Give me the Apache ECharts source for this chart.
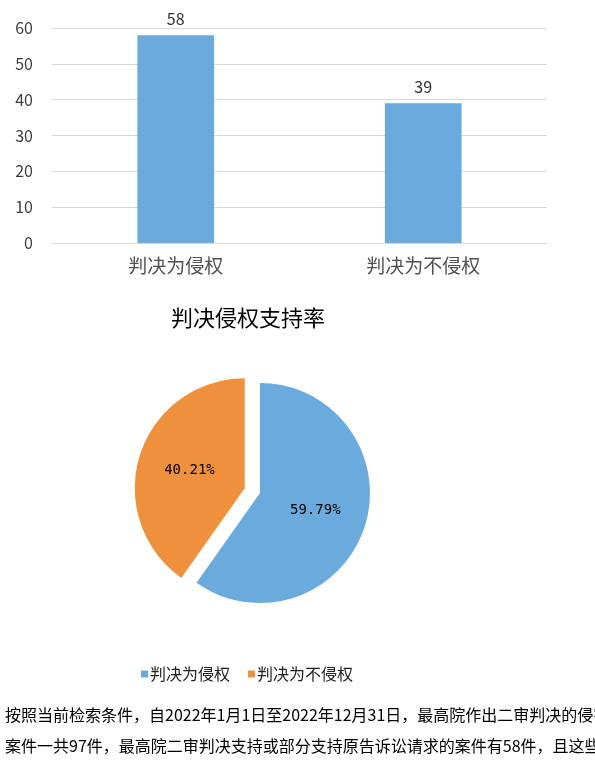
<!DOCTYPE html>
<html><head><meta charset="utf-8">
<script src="https://cdn.jsdelivr.net/npm/echarts@6/dist/echarts.min.js"></script>
<style>html,body{margin:0;padding:0;background:#fff;}#c{width:595px;height:770px;}</style>
</head><body><div id="c"></div>
<script>
const barCategories = ['判决为侵权', '判决为不侵权'];
const barValues = [58, 39];
const yTicks = [0, 10, 20, 30, 40, 50, 60];
const pieTitle = '判决侵权支持率';
const pieNames = ['判决为侵权', '判决为不侵权'];
const pieValues = [58, 39];
const textLines = [
  '按照当前检索条件，自2022年1月1日至2022年12月31日，最高院作出二审判决的侵害',
  '案件一共97件，最高院二审判决支持或部分支持原告诉讼请求的案件有58件，且这些'
];

const blue = '#6aaadc', orange = '#ef913c';
const cjk = '"Noto Sans CJK SC", "Noto Sans", sans-serif';
const chart = echarts.init(document.getElementById('c'), null, {renderer: 'canvas'});
chart.setOption({
  animation: false,
  textStyle: {fontFamily: cjk},
  title: {text: pieTitle, left: 243, top: 302, textAlign: 'center',
    textStyle: {fontSize: 22, fontWeight: 'normal', color: '#000', fontFamily: cjk}},
  grid: {left: 52, right: 48, top: 28, bottom: 527, containLabel: false},
  xAxis: {type: 'category', data: barCategories,
    axisLine: {show: true, lineStyle: {color: '#d9d9d9'}}, axisTick: {show: false},
    axisLabel: {fontSize: 19, color: '#505050', margin: 13, fontFamily: cjk}},
  yAxis: {type: 'value', min: yTicks[0], max: yTicks[yTicks.length - 1], interval: 10,
    axisLine: {show: false}, axisTick: {show: false},
    splitLine: {lineStyle: {color: '#d9d9d9', width: 1}},
    axisLabel: {fontSize: 16, color: '#404040', margin: 19, fontFamily: cjk}},
  legend: {data: pieNames, left: 136, top: 661, icon: 'rect', itemWidth: 7, itemHeight: 7,
    itemGap: 18, textStyle: {fontSize: 16, color: '#222', fontFamily: cjk, padding: [0, 0, 0, -3]}},
  series: [
    {type: 'bar', data: barValues, barWidth: '31%', itemStyle: {color: blue},
      label: {show: true, position: 'top', distance: 8, fontSize: 16, color: '#333', fontFamily: cjk}},
    {type: 'pie', center: [260, 493], radius: 110, startAngle: 90, clockwise: true,
      selectedMode: 'single', selectedOffset: 16,
      data: pieNames.map((n, i) => ({name: n, value: pieValues[i], selected: i === 1,
        itemStyle: {color: i === 0 ? blue : orange}})),
      label: {show: true, position: 'inner', formatter: '{d}%', fontSize: 14, color: '#000',
        fontFamily: '"DejaVu Sans Mono", monospace'},
      labelLine: {show: false}, emphasis: {disabled: true}}
  ],
  graphic: textLines.map((t, i) => ({type: 'text', left: 5, top: 707 + i * 31,
    style: {text: t, fontSize: 16, fill: '#000', fontFamily: cjk}}))
});
</script></body></html>
